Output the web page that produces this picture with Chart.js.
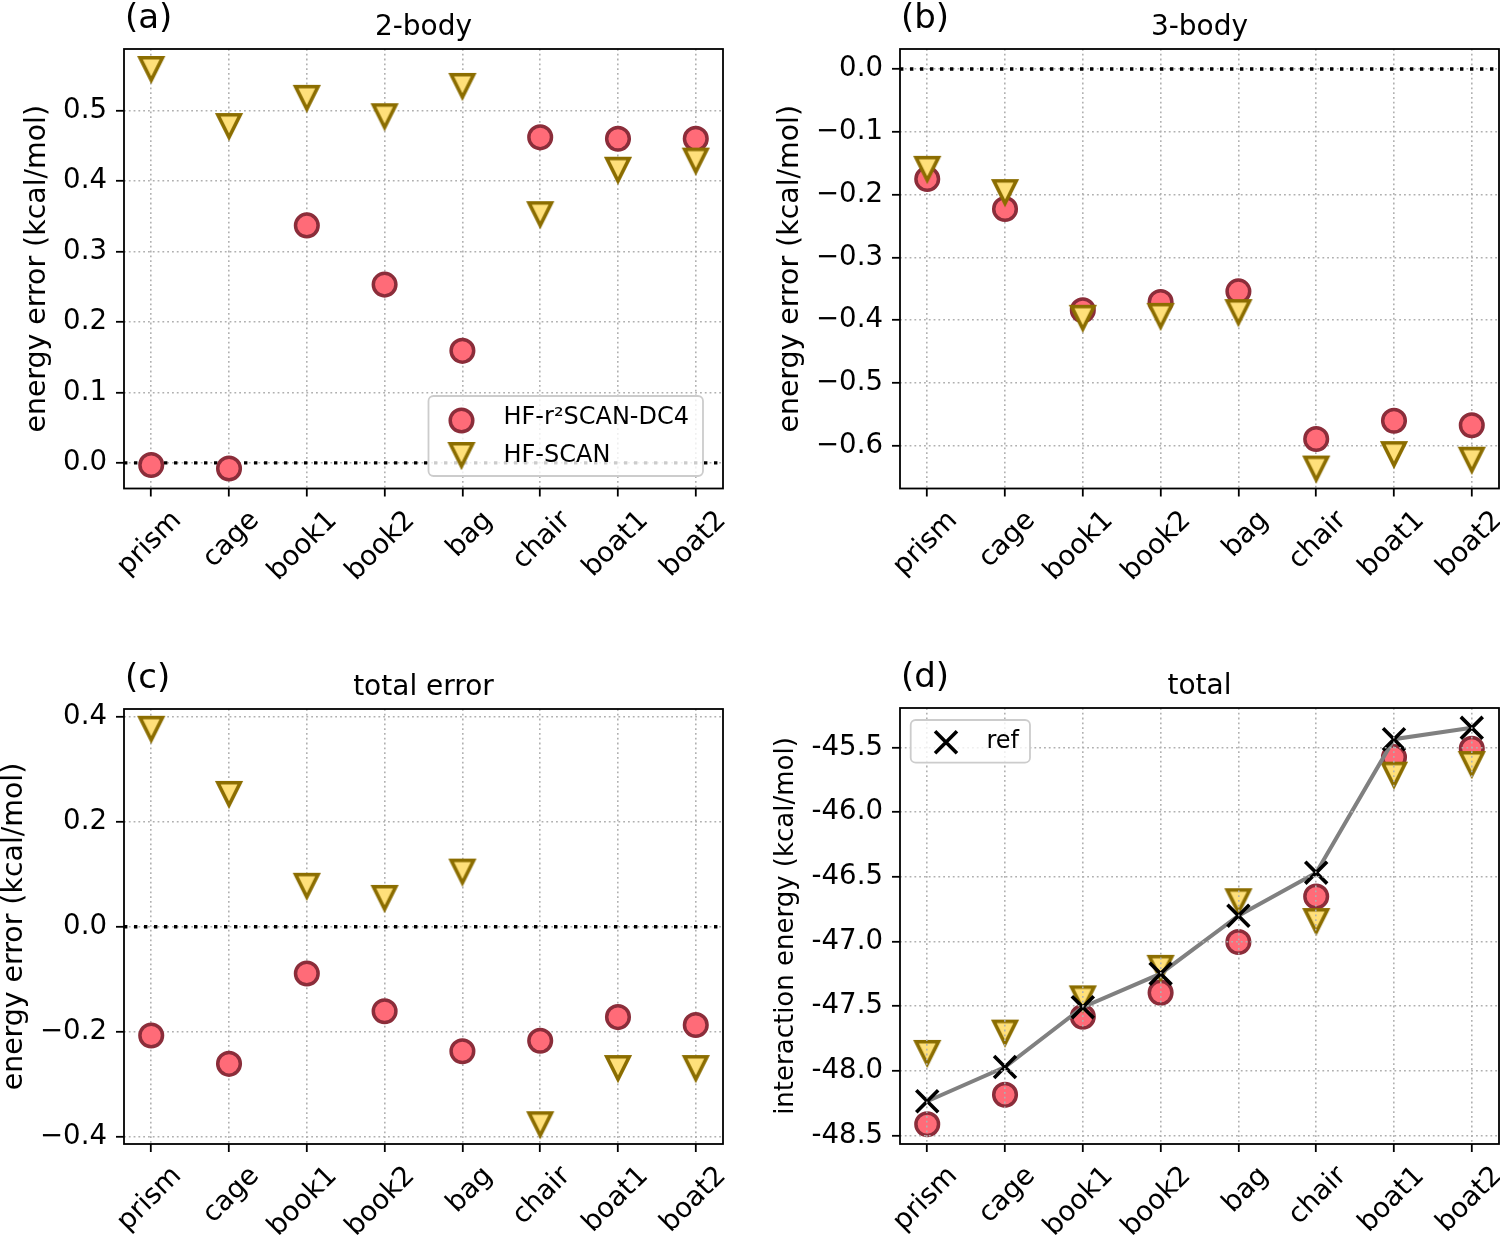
<!DOCTYPE html>
<html>
<head>
<meta charset="utf-8">
<script src="https://cdn.jsdelivr.net/npm/chart.js@4.4.1/dist/chart.umd.min.js"></script>
<style>
  html, body { margin: 0; padding: 0; background: #fff; }
  #fig { position: relative; width: 1500px; height: 1244px; overflow: hidden; }
  #fig canvas { position: absolute; }
</style>
</head>
<body>
<div id="fig">
  <canvas id="panelA" width="750" height="622" style="left:0px;top:0px"></canvas>
  <canvas id="panelB" width="750" height="622" style="left:750px;top:0px"></canvas>
  <canvas id="panelC" width="750" height="622" style="left:0px;top:622px"></canvas>
  <canvas id="panelD" width="750" height="622" style="left:750px;top:622px"></canvas>
</div>
<script>
// DATOS
const structures = ['prism', 'cage', 'book1', 'book2', 'bag', 'chair', 'boat1', 'boat2'];

// (a) 2-body error
const twoBodyR2scan = [-0.003, -0.008, 0.337, 0.253, 0.159, 0.462, 0.460, 0.460];
const twoBodyScan   = [0.559, 0.478, 0.518, 0.492, 0.535, 0.353, 0.416, 0.429];
// (b) 3-body error
const threeBodyR2scan = [-0.175, -0.223, -0.384, -0.371, -0.354, -0.589, -0.560, -0.567];
const threeBodyScan   = [-0.159, -0.196, -0.396, -0.393, -0.387, -0.636, -0.613, -0.622];
// (c) total error
const totalErrR2scan = [-0.207, -0.261, -0.089, -0.161, -0.237, -0.217, -0.172, -0.187];
const totalErrScan   = [0.377, 0.253, 0.078, 0.055, 0.105, -0.376, -0.269, -0.269];
// (d) interaction energy
const refEnergy    = [-48.235, -47.970, -47.507, -47.248, -46.800, -46.467, -45.435, -45.347];
const r2scanEnergy = [-48.412, -48.185, -47.581, -47.395, -47.003, -46.652, -45.574, -45.509];
const scanEnergy   = [-47.861, -47.704, -47.439, -47.203, -46.688, -46.841, -45.709, -45.627];

// tick labels
const ticksA = [0.0, 0.1, 0.2, 0.3, 0.4, 0.5];
const ticksB = [0.0, -0.1, -0.2, -0.3, -0.4, -0.5, -0.6];
const ticksC = [-0.4, -0.2, 0.0, 0.2, 0.4];
const ticksD = [-48.5, -48.0, -47.5, -47.0, -46.5, -46.0, -45.5];

const labelR2scan = 'HF-r\u00b2SCAN-DC4';
const labelScan = 'HF-SCAN';
const labelRef = 'ref';

// ESTILOS
const FONT = "'DejaVu Sans', sans-serif";
const TICK_SIZE = 27.6;
const RED_FILL = '#ff6b78';
const RED_EDGE = '#8b2d3a';
const TRI_FILL = '#ffe07a';
const TRI_EDGE = '#8b6d00';
const GRID = '#b0b0b0';

// triangulo hacia abajo estilo matplotlib ('v')
function makeTriangle() {
  const c = document.createElement('canvas');
  c.width = 40; c.height = 40;
  const g = c.getContext('2d');
  const h = 11.2;
  g.beginPath();
  g.moveTo(20 - h, 20 - h);
  g.lineTo(20 + h, 20 - h);
  g.lineTo(20, 20 + h);
  g.closePath();
  g.fillStyle = TRI_FILL;
  g.fill();
  g.lineWidth = 3.6;
  g.lineJoin = 'miter';
  g.strokeStyle = TRI_EDGE;
  g.stroke();
  return c;
}
const triangleImg = makeTriangle();

const styleCircle = { pointStyle: 'circle', radius: 11.3, fill: RED_FILL, edge: RED_EDGE, width: 3.5 };
const styleTriangle = { pointStyle: triangleImg, radius: 12, fill: TRI_FILL, edge: TRI_EDGE, width: 3.6 };
const styleCross = { pointStyle: 'crossRot', radius: 15.5, fill: 'rgba(0,0,0,0)', edge: '#000', width: 3.6 };

const toXY = vals => vals.map((v, i) => ({ x: i, y: v }));

function markerSet(label, vals, st, order) {
  return {
    label, data: toXY(vals), order,
    pointStyle: st.pointStyle, pointRadius: st.radius,
    pointBackgroundColor: st.fill, pointBorderColor: st.edge, pointBorderWidth: st.width,
    showLine: false
  };
}

const xPad = (structures.length - 1) * 0.05;
const xMin = -xPad, xMax = structures.length - 1 + xPad;

function zeroLine() {
  return {
    label: 'zero', data: [{ x: xMin, y: 0 }, { x: xMax, y: 0 }], order: 5,
    showLine: true, borderColor: '#000', borderWidth: 3.4, borderDash: [3.4, 6.6],
    pointRadius: 0
  };
}

// margenes como matplotlib (5%)
function paddedRange(arrays, withZero) {
  let lo = Math.min(...arrays.flat());
  let hi = Math.max(...arrays.flat());
  if (withZero) { lo = Math.min(lo, 0); hi = Math.max(hi, 0); }
  const m = (hi - lo) * 0.05;
  return [lo - m, hi + m];
}

const fmtMinus = v => (v < 0 ? '\u2212' + Math.abs(v).toFixed(1) : v.toFixed(1));
const fmtHyphen = v => v.toFixed(1);

// PLUGIN: marco, titulo, letra y leyenda
const panelDecor = {
  id: 'panelDecor',
  afterDraw(chart, args, opts) {
    const { ctx, chartArea: a } = chart;
    ctx.save();
    ctx.strokeStyle = '#000';
    ctx.lineWidth = 1.8;
    ctx.strokeRect(a.left, a.top, a.right - a.left, a.bottom - a.top);

    ctx.fillStyle = '#000';
    ctx.textBaseline = 'alphabetic';
    ctx.font = `28px ${FONT}`;
    ctx.textAlign = 'center';
    ctx.fillText(opts.title, (a.left + a.right) / 2, a.top - 14);
    ctx.font = `34px ${FONT}`;
    ctx.textAlign = 'left';
    ctx.fillText(opts.letter, a.left + 1, a.top - 21);

    const lg = opts.legend;
    if (lg) {
      const bx = lg.fromRight ? a.right - lg.dx : a.left + lg.dx;
      const by = lg.fromBottom ? a.bottom - lg.dy : a.top + lg.dy;
      const r = 5;
      ctx.beginPath();
      ctx.moveTo(bx + r, by);
      ctx.arcTo(bx + lg.w, by, bx + lg.w, by + lg.h, r);
      ctx.arcTo(bx + lg.w, by + lg.h, bx, by + lg.h, r);
      ctx.arcTo(bx, by + lg.h, bx, by, r);
      ctx.arcTo(bx, by, bx + lg.w, by, r);
      ctx.closePath();
      ctx.fillStyle = 'rgba(255,255,255,0.8)';
      ctx.fill();
      ctx.strokeStyle = '#cccccc';
      ctx.lineWidth = 1.8;
      ctx.stroke();

      lg.entries.forEach(e => {
        const st = e.style;
        ctx.fillStyle = st.fill;
        ctx.strokeStyle = st.edge;
        ctx.lineWidth = st.width;
        Chart.helpers.drawPoint(ctx, { pointStyle: st.pointStyle, radius: st.radius, borderWidth: st.width, rotation: 0 },
          bx + lg.markerX, by + e.markerY);
        ctx.fillStyle = '#000';
        ctx.font = `24px ${FONT}`;
        ctx.textAlign = 'left';
        ctx.textBaseline = 'alphabetic';
        ctx.fillText(e.text, bx + lg.textX, by + e.baseline);
      });
    }
    ctx.restore();
  }
};

function gridOpts(onTop) {
  return {
    color: GRID, lineWidth: 1.6,
    drawTicks: true, tickLength: 8, tickColor: '#000', tickWidth: 1.8, tickBorderDash: [],
    z: onTop ? 1 : 0
  };
}
const borderOpts = { display: false, dash: [1.8, 3] };

// quitar el relleno extra que Chart.js reserva para etiquetas
function noLabelPadding(s) {
  s.paddingLeft = 0; s.paddingRight = 0; s.paddingTop = 0; s.paddingBottom = 0;
}

function buildPanel(p) {
  const canvas = document.getElementById(p.id);
  const W = canvas.width, H = canvas.height;
  const A = p.area;
  const [yMin, yMax] = paddedRange(p.rangeFrom, p.zero);
  const datasets = p.datasets.slice();
  if (p.zero) datasets.push(zeroLine());

  return new Chart(canvas, {
    type: 'scatter',
    data: { datasets },
    options: {
      responsive: false,
      animation: false,
      events: [],
      layout: { autoPadding: false, padding: { left: 0, top: A.t, right: W - A.r, bottom: 0 } },
      plugins: {
        legend: { display: false },
        tooltip: { enabled: false },
        panelDecor: { title: p.title, letter: p.letter, legend: p.legend }
      },
      scales: {
        x: {
          type: 'linear', min: xMin, max: xMax,
          afterBuildTicks: s => { s.ticks = structures.map((_, i) => ({ value: i })); },
          afterFit: s => { s.height = H - A.b; noLabelPadding(s); },
          ticks: {
            callback: v => structures[v], autoSkip: false,
            minRotation: 45, maxRotation: 45, labelOffset: 26, padding: 8,
            color: '#000', font: { family: FONT, size: TICK_SIZE }
          },
          grid: gridOpts(p.gridOnTop),
          border: borderOpts
        },
        y: {
          type: 'linear', min: yMin, max: yMax,
          afterBuildTicks: s => { s.ticks = p.ticks.map(v => ({ value: v })); },
          afterFit: s => { s.width = A.l; noLabelPadding(s); },
          ticks: { callback: p.fmt, padding: 9, color: '#000', font: { family: FONT, size: TICK_SIZE } },
          grid: gridOpts(p.gridOnTop),
          border: borderOpts,
          title: {
            display: true, text: p.yTitle, color: '#000',
            font: { family: FONT, size: p.yTitleSize, lineHeight: 1 },
            padding: { top: p.yTitleCenter - p.yTitleSize / 2, bottom: 0 }
          }
        }
      }
    },
    plugins: [panelDecor]
  });
}

// PANEL (a)
buildPanel({
  id: 'panelA', area: { l: 124, t: 49, r: 723, b: 488.5 },
  title: '2-body', letter: '(a)',
  yTitle: 'energy error (kcal/mol)', yTitleSize: 28.4, yTitleCenter: 38,
  ticks: ticksA, fmt: fmtMinus, zero: true, gridOnTop: false,
  rangeFrom: [twoBodyR2scan, twoBodyScan],
  datasets: [
    markerSet(labelScan, twoBodyScan, styleTriangle, 1),
    markerSet(labelR2scan, twoBodyR2scan, styleCircle, 2)
  ],
  legend: {
    fromRight: true, fromBottom: true, dx: 294.5, dy: 92.5, w: 274.5, h: 80,
    markerX: 33, textX: 75,
    entries: [
      { text: labelR2scan, style: styleCircle, markerY: 24.5, baseline: 28.3 },
      { text: labelScan, style: styleTriangle, markerY: 59, baseline: 65.7 }
    ]
  }
});

// PANEL (b)
buildPanel({
  id: 'panelB', area: { l: 150, t: 49, r: 749, b: 488.5 },
  title: '3-body', letter: '(b)',
  yTitle: 'energy error (kcal/mol)', yTitleSize: 28.4, yTitleCenter: 40.4,
  ticks: ticksB, fmt: fmtMinus, zero: true, gridOnTop: false,
  rangeFrom: [threeBodyR2scan, threeBodyScan],
  datasets: [
    markerSet(labelScan, threeBodyScan, styleTriangle, 1),
    markerSet(labelR2scan, threeBodyR2scan, styleCircle, 2)
  ]
});

// PANEL (c)
buildPanel({
  id: 'panelC', area: { l: 124, t: 87, r: 723, b: 522 },
  title: 'total error', letter: '(c)',
  yTitle: 'energy error (kcal/mol)', yTitleSize: 28.4, yTitleCenter: 15,
  ticks: ticksC, fmt: fmtMinus, zero: true, gridOnTop: false,
  rangeFrom: [totalErrR2scan, totalErrScan],
  datasets: [
    markerSet(labelScan, totalErrScan, styleTriangle, 1),
    markerSet(labelR2scan, totalErrR2scan, styleCircle, 2)
  ]
});

// PANEL (d)
const refSet = markerSet(labelRef, refEnergy, styleCross, 1);
refSet.showLine = true;
refSet.borderColor = '#808080';
refSet.borderWidth = 4;

buildPanel({
  id: 'panelD', area: { l: 150, t: 86, r: 749, b: 522 },
  title: 'total', letter: '(d)',
  yTitle: 'interaction energy (kcal/mol)', yTitleSize: 26, yTitleCenter: 36,
  ticks: ticksD, fmt: fmtHyphen, zero: false, gridOnTop: true,
  rangeFrom: [refEnergy, r2scanEnergy, scanEnergy],
  datasets: [
    refSet,
    markerSet(labelScan, scanEnergy, styleTriangle, 2),
    markerSet(labelR2scan, r2scanEnergy, styleCircle, 3)
  ],
  legend: {
    fromRight: false, fromBottom: false, dx: 10.7, dy: 12, w: 119.3, h: 42.7,
    markerX: 35.3, textX: 75.8,
    entries: [
      { text: labelRef, style: styleCross, markerY: 22.3, baseline: 28.3 }
    ]
  }
});
</script>
</body>
</html>
